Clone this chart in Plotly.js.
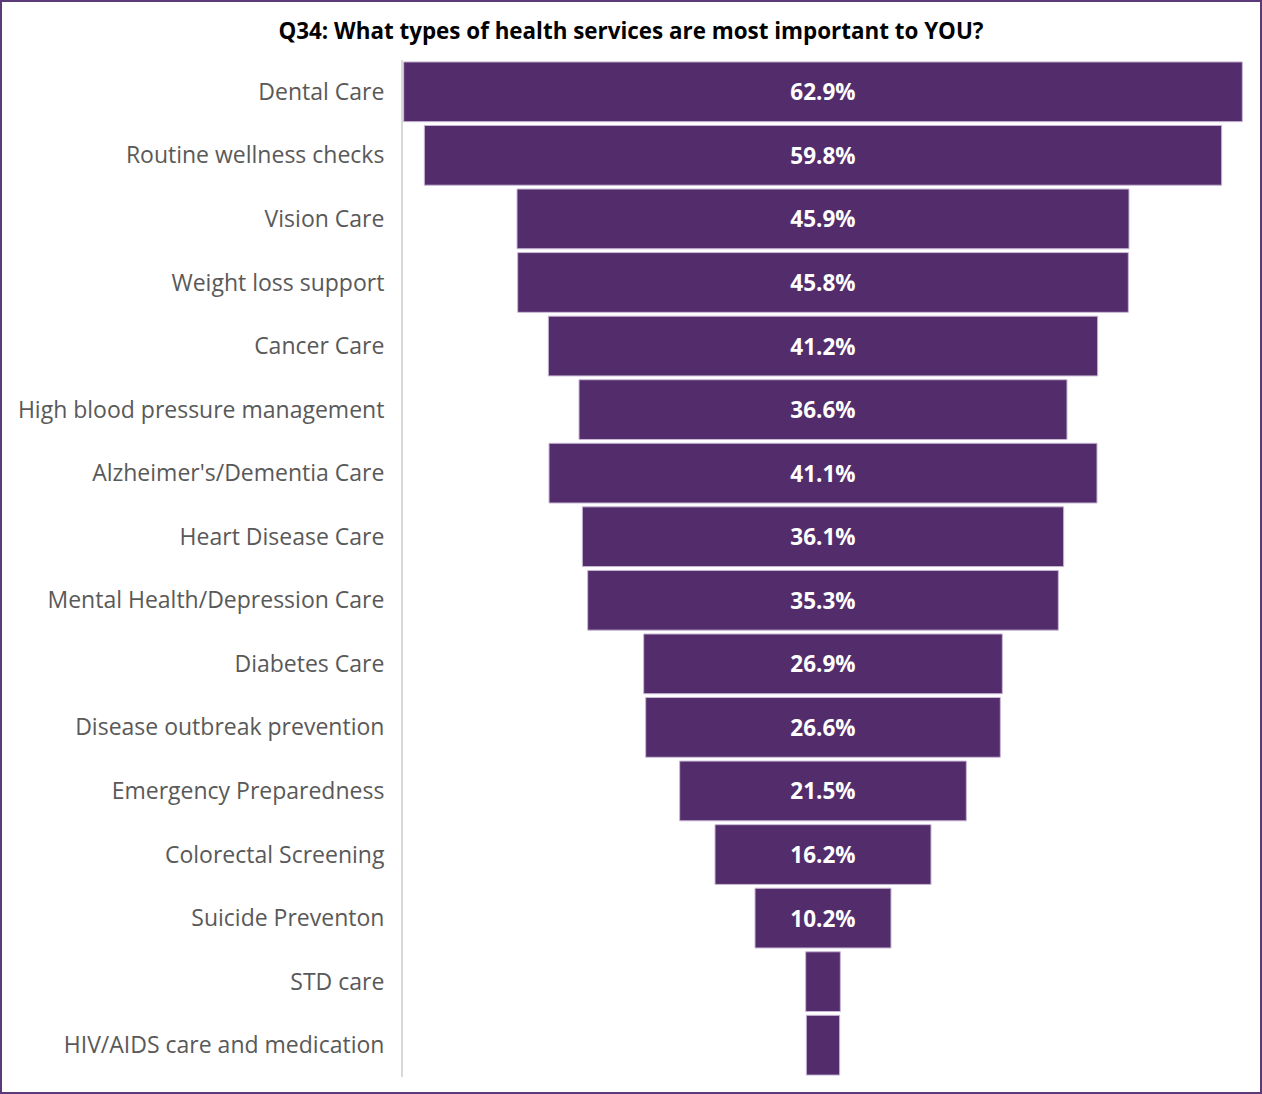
<!DOCTYPE html>
<html>
<head>
<meta charset="utf-8">
<script src="https://cdn.plot.ly/plotly-3.0.1.min.js"></script>
<style>
html,body{margin:0;padding:0;background:#fff;}
#chart{width:1262px;height:1094px;box-sizing:border-box;border:2px solid #5b3a7a;}
</style>
</head>
<body>
<div id="chart"></div>
<script>
const categories = [
  "Dental Care",
  "Routine wellness checks",
  "Vision Care",
  "Weight loss support",
  "Cancer Care",
  "High blood pressure management",
  "Alzheimer's/Dementia Care",
  "Heart Disease Care",
  "Mental Health/Depression Care",
  "Diabetes Care",
  "Disease outbreak prevention",
  "Emergency Preparedness",
  "Colorectal Screening",
  "Suicide Preventon",
  "STD care",
  "HIV/AIDS care and medication"
];
const values = [62.9, 59.8, 45.9, 45.8, 41.2, 36.6, 41.1, 36.1, 35.3, 26.9, 26.6, 21.5, 16.2, 10.2, 2.6, 2.5];
const titleText = "Q34: What types of health services are most important to YOU?";

const labelTemplates = values.map(v => v >= 5 ? "%{x:.1f}%" : "");

const trace = {
  type: "funnel",
  y: categories,
  x: values,
  orientation: "h",
  texttemplate: labelTemplates,
  textposition: "inside",
  insidetextanchor: "middle",
  textfont: {family: "Open Sans", size: 22.5, color: "#ffffff", weight: "bold"},
  marker: {color: "#532d6b", line: {color: "#c9b8d6", width: 1}},
  connector: {visible: false},
  hoverinfo: "y+x"
};

const layout = {
  width: 1258,
  height: 1090,
  margin: {l: 401, r: 17, t: 58, b: 15},
  paper_bgcolor: "#ffffff",
  plot_bgcolor: "#ffffff",
  showlegend: false,
  funnelgap: 0.06,
  title: {
    text: "<b>" + titleText + "</b>",
    font: {family: "Open Sans", size: 22.4, color: "#000000"},
    x: 0.5, xref: "container", xanchor: "center",
    y: 1, yref: "container", yanchor: "top", pad: {t: 21}
  },
  xaxis: {
    range: [-31.5, 31.5],
    showticklabels: false, showgrid: false, zeroline: false, showline: false
  },
  yaxis: {
    showline: true, linecolor: "#d9d9d9", linewidth: 2,
    showgrid: false, zeroline: false,
    ticks: "", ticklabelstandoff: 12,
    tickfont: {family: "Open Sans", size: 23, color: "#595959"}
  }
};

Plotly.newPlot("chart", [trace], layout, {displayModeBar: false, responsive: false});
</script>
</body>
</html>
